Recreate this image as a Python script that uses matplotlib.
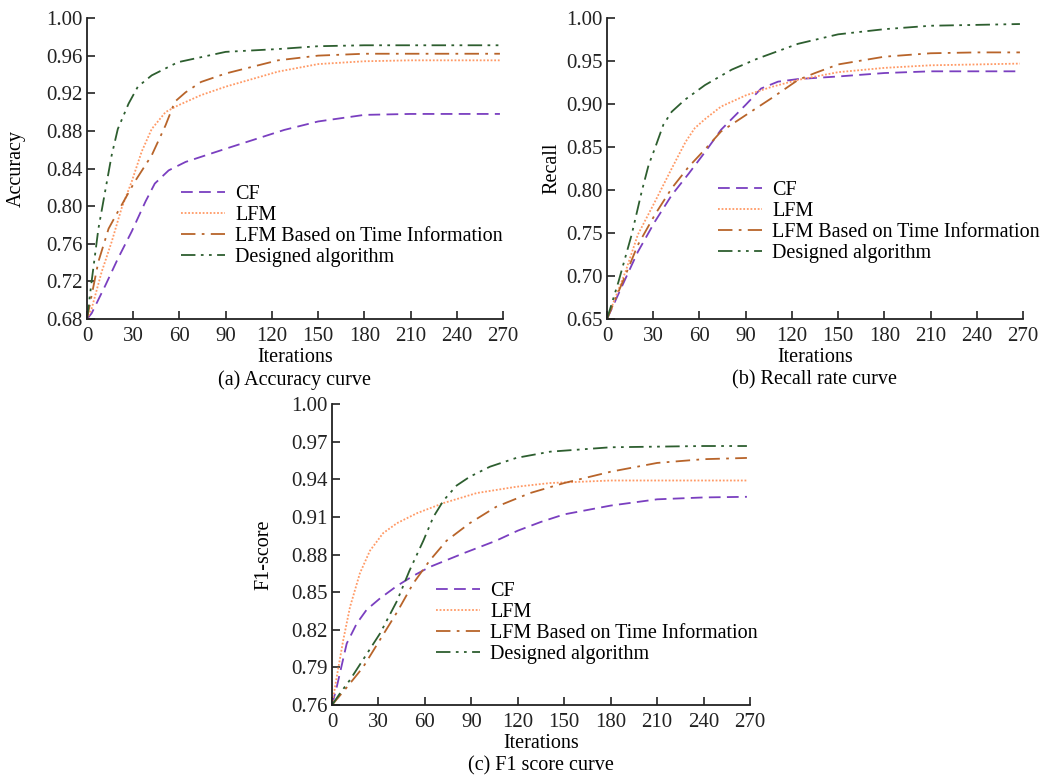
import matplotlib.pyplot as plt
import numpy as np

plt.rcParams['font.family'] = ['Liberation Serif', 'DejaVu Serif']

# --- data ---
series_names = ['CF', 'LFM', 'LFM Based on Time Information', 'Designed algorithm']

# (a) Accuracy
acc_cf_x = [0, 3, 12, 20, 29, 38, 44, 53, 64, 90, 128, 150, 180, 210, 240, 268]
acc_cf_y = [0.680, 0.686, 0.716, 0.744, 0.773, 0.805, 0.824, 0.838, 0.847, 0.861, 0.881, 0.890, 0.897, 0.898, 0.898, 0.898]
acc_lfm_x = [0, 3, 9.5, 16, 22.5, 29, 35.5, 42, 51, 59, 74, 90, 124, 150, 180, 210, 240, 268]
acc_lfm_y = [0.680, 0.691, 0.730, 0.762, 0.798, 0.826, 0.858, 0.882, 0.900, 0.907, 0.918, 0.927, 0.943, 0.951, 0.954, 0.955, 0.955, 0.955]
acc_lfmt_x = [0, 3, 7.4, 14, 20, 31, 42, 51, 57, 64, 74, 90, 124, 150, 180, 210, 240, 268]
acc_lfmt_y = [0.680, 0.705, 0.741, 0.776, 0.794, 0.826, 0.854, 0.886, 0.911, 0.921, 0.932, 0.941, 0.955, 0.960, 0.962, 0.962, 0.962, 0.962]
acc_des_x = [0, 3, 7.4, 11.7, 16, 20, 27, 33, 42, 59, 90, 124, 150, 180, 210, 240, 268]
acc_des_y = [0.680, 0.720, 0.776, 0.815, 0.854, 0.882, 0.909, 0.927, 0.939, 0.953, 0.964, 0.967, 0.970, 0.971, 0.971, 0.971, 0.971]

# (b) Recall
rec_cf_x = [0, 12, 20, 31, 42, 53, 64, 74, 90, 100, 111, 124, 150, 180, 210, 240, 268]
rec_cf_y = [0.650, 0.697, 0.728, 0.763, 0.794, 0.819, 0.845, 0.870, 0.899, 0.918, 0.926, 0.929, 0.932, 0.936, 0.938, 0.938, 0.938]
rec_lfm_x = [0, 12, 20, 31, 42, 51, 57, 64, 74, 90, 107, 124, 150, 180, 210, 240, 268]
rec_lfm_y = [0.650, 0.705, 0.748, 0.786, 0.825, 0.856, 0.872, 0.883, 0.897, 0.910, 0.920, 0.928, 0.937, 0.942, 0.945, 0.946, 0.947]
rec_lfmt_x = [0, 12, 20, 31, 42, 53, 64, 74, 90, 107, 124, 135, 150, 180, 210, 240, 268]
rec_lfmt_y = [0.650, 0.701, 0.736, 0.771, 0.802, 0.827, 0.848, 0.868, 0.887, 0.907, 0.928, 0.936, 0.946, 0.955, 0.959, 0.960, 0.960]
rec_des_x = [0, 7.4, 16, 22.5, 27, 31, 36.6, 42, 50.6, 63.6, 81, 98, 124, 150, 180, 210, 240, 268]
rec_des_y = [0.650, 0.693, 0.748, 0.798, 0.829, 0.848, 0.876, 0.891, 0.905, 0.922, 0.940, 0.953, 0.970, 0.981, 0.987, 0.991, 0.992, 0.993]

# (c) F1-score
f1_cf_x = [0, 3, 9.5, 16, 22.4, 31, 42, 52.5, 63, 85, 106, 120, 135, 150, 180, 210, 240, 268]
f1_cf_y = [0.760, 0.774, 0.809, 0.825, 0.836, 0.845, 0.855, 0.863, 0.870, 0.881, 0.891, 0.899, 0.906, 0.912, 0.919, 0.924, 0.9255, 0.926]
f1_lfm_x = [0, 3, 7.3, 11.6, 18, 24.5, 33, 42, 55, 72, 93.5, 119, 141, 180, 210, 240, 268]
f1_lfm_y = [0.760, 0.782, 0.812, 0.838, 0.865, 0.883, 0.897, 0.905, 0.913, 0.921, 0.929, 0.934, 0.937, 0.939, 0.939, 0.939, 0.939]
f1_lfmt_x = [0, 9.5, 20, 31, 42, 52.5, 63, 74, 89, 106, 128, 150, 180, 210, 240, 268]
f1_lfmt_y = [0.760, 0.774, 0.790, 0.812, 0.834, 0.857, 0.875, 0.891, 0.905, 0.918, 0.929, 0.937, 0.946, 0.953, 0.956, 0.957]
f1_des_x = [0, 5, 11.6, 20, 31, 42, 50, 59, 65.5, 72, 80.5, 89, 102, 119, 141, 180, 210, 240, 268]
f1_des_y = [0.760, 0.769, 0.780, 0.796, 0.817, 0.843, 0.867, 0.891, 0.910, 0.923, 0.935, 0.942, 0.950, 0.957, 0.962, 0.9655, 0.966, 0.9665, 0.9665]

x_ticks = [0, 30, 60, 90, 120, 150, 180, 210, 240, 270]
acc_ticks = [0.68, 0.72, 0.76, 0.80, 0.84, 0.88, 0.92, 0.96, 1.00]
rec_ticks = [0.65, 0.70, 0.75, 0.80, 0.85, 0.90, 0.95, 1.00]
f1_ticks = [0.76, 0.79, 0.82, 0.85, 0.88, 0.91, 0.94, 0.97, 1.00]

colors = ['#7a3fc0', '#ff9a66', '#b8642a', '#2d5e2f']
styles = [(0, (6.5, 3.5)), (0, (1, 1)), (0, (8, 3.5, 1.5, 3.5)), (0, (8, 3, 1.5, 3, 1.5, 3))]

W, H = 1040, 777
fig = plt.figure(figsize=(W / 100, H / 100), dpi=100)


def make_ax(l, r, t, b):
    return fig.add_axes([l / W, 1 - b / H, (r - l) / W, (b - t) / H])


def draw(ax, data, yticks, ylabel, ylabel_x, caption, leg_anchor):
    for (xs, ys), c, ls, name in zip(data, colors, styles, series_names):
        ax.plot(xs, ys, color=c, linestyle=ls, linewidth=1.3, label=name)
    ax.set_xlim(0, 270)
    ax.set_ylim(yticks[0], yticks[-1])
    ax.set_xticks(x_ticks)
    ax.set_yticks(yticks)
    ax.set_yticklabels([f'{v:.2f}' for v in yticks])
    ax.spines['top'].set_visible(False)
    ax.spines['right'].set_visible(False)
    for s in ['left', 'bottom']:
        ax.spines[s].set_linewidth(1.3)
        ax.spines[s].set_color('#222222')
    ax.tick_params(direction='in', length=6, width=1.2, labelsize=15, colors='#222222')
    ax.tick_params(axis='x', pad=6)
    ax.tick_params(axis='y', pad=3)
    ax.set_xlabel('Iterations', fontsize=14.5)
    ax.xaxis.set_label_coords(0.5, -0.095)
    ax.set_ylabel(ylabel, fontsize=14.5)
    ax.yaxis.set_label_coords(ylabel_x, 0.5)
    ax.text(0.5, -0.203, caption, transform=ax.transAxes, ha='center', va='center', fontsize=14.5)
    ax.legend(loc='upper left', bbox_to_anchor=leg_anchor, frameon=False, fontsize=14.5,
              handlelength=2.2, handletextpad=0.5, labelspacing=0.1, borderpad=0, borderaxespad=0)
    ax.patch.set_visible(False)


ax1 = make_ax(87, 503, 18, 319)
draw(ax1, [(acc_cf_x, acc_cf_y), (acc_lfm_x, acc_lfm_y), (acc_lfmt_x, acc_lfmt_y), (acc_des_x, acc_des_y)],
     acc_ticks, 'Accuracy', -0.147, '(a) Accuracy curve', (0.226, 0.445))

ax2 = make_ax(607, 1023, 18, 319)
draw(ax2, [(rec_cf_x, rec_cf_y), (rec_lfm_x, rec_lfm_y), (rec_lfmt_x, rec_lfmt_y), (rec_des_x, rec_des_y)],
     rec_ticks, 'Recall', -0.11, '(b) Recall rate curve', (0.267, 0.46))

ax3 = make_ax(332, 750, 404, 705)
draw(ax3, [(f1_cf_x, f1_cf_y), (f1_lfm_x, f1_lfm_y), (f1_lfmt_x, f1_lfmt_y), (f1_des_x, f1_des_y)],
     f1_ticks, 'F1-score', -0.141, '(c) F1 score curve', (0.249, 0.41))

fig.savefig('out.png', dpi=100)
